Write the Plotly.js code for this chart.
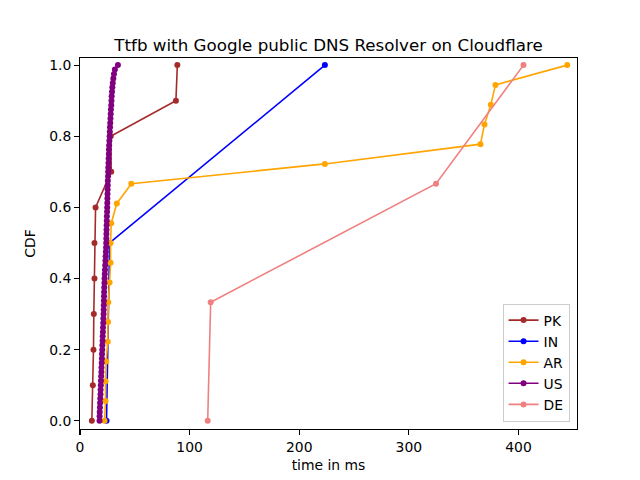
<!DOCTYPE html>
<html>
<head>
<meta charset="utf-8">
<script src="https://cdn.plot.ly/plotly-3.0.1.min.js"></script>
<style>html,body{margin:0;padding:0;background:#fff;}#chart{width:640px;height:480px;}</style>
</head>
<body>
<div id="chart"></div>
<script>
// Data (time in ms, CDF)
const pkX = [10.8, 11.7, 12.3, 12.6, 13.2, 13.2, 14.2, 28.5, 28.0, 87.5, 88.8];
const pkY = [0.0, 0.1, 0.2, 0.3, 0.4, 0.5, 0.6, 0.7, 0.8, 0.9, 1.0];

const inX = [24.2, 27.0, 223.4];
const inY = [0.0, 0.5, 1.0];

const arX = [22.4, 23.3, 23.3, 23.9, 25.3, 25.6, 25.8, 27.0, 27.9, 27.9, 28.5, 33.6, 46.8, 223.4, 365.3, 369.0, 374.8, 379.0, 444.5];
const arY = [0/18, 1/18, 2/18, 3/18, 4/18, 5/18, 6/18, 7/18, 8/18, 9/18, 10/18, 11/18, 12/18, 13/18, 14/18, 15/18, 16/18, 17/18, 18/18];

const usX = [17.8, 17.9, 18.0, 18.2, 18.3, 18.5, 18.7, 18.8, 19.0,
             19.1, 19.3, 19.5, 19.6, 19.8, 20.0, 20.1, 20.3,
             20.4, 20.6, 20.7, 20.9, 21.0, 21.2, 21.3, 21.5,
             21.6, 21.7, 21.8, 21.9, 22.0, 22.1, 22.3, 22.4,
             22.6, 22.8, 23.0, 23.2, 23.4, 23.6, 23.8, 23.9,
             24.0, 24.1, 24.2, 24.3, 24.4, 24.5, 24.7, 24.8,
             24.9, 25.0, 25.1, 25.2, 25.3, 25.4, 25.6, 25.7,
             25.8, 26.0, 26.1, 26.3, 26.4, 26.6, 26.8, 27.0,
             27.2, 27.4, 27.6, 27.8, 28.0, 28.2, 28.5, 28.7,
             28.9, 29.2, 29.5, 29.9, 30.4, 31.0, 31.8, 34.6];
// empirical CDF level of each sorted sample
const usY = usX.map((_, i) => i / (usX.length - 1));

const deX = [116.5, 119.2, 324.8, 404.6];
const deY = [0.0, 1/3, 2/3, 1.0];

const names = ["PK", "IN", "AR", "US", "DE"];
const colors = ["#a52a2a", "#0000ff", "#ffa500", "#800080", "#f08080"];
const xs = [pkX, inX, arX, usX, deX];
const ys = [pkY, inY, arY, usY, deY];

const traces = names.map((n, i) => ({
  type: "scatter",
  mode: "lines+markers",
  name: n,
  x: xs[i],
  y: ys[i],
  line: {color: colors[i], width: 1.6},
  marker: {color: colors[i], size: 6}
}));

const font = "DejaVu Sans, sans-serif";
const layout = {
  width: 640,
  height: 480,
  paper_bgcolor: "#fff",
  plot_bgcolor: "#fff",
  margin: {l: 80, r: 63, t: 58, b: 51, pad: 0},
  font: {family: font, size: 13.9, color: "#000"},
  title: {
    text: "Ttfb with Google public DNS Resolver on Cloudflare",
    font: {family: font, size: 16.7, color: "#000"},
    x: 0.5, xref: "paper", xanchor: "center",
    y: 1, yref: "paper", yanchor: "bottom",
    pad: {b: 7}
  },
  xaxis: {
    title: {text: "time in ms", font: {family: font, size: 13.9}, standoff: 6},
    range: [0, 453.4],
    tickvals: [0, 100, 200, 300, 400],
    ticks: "outside", ticklen: 4.9, tickwidth: 1.1, tickcolor: "#000",
    showline: true, linecolor: "#000", linewidth: 1.1, mirror: true,
    showgrid: false, zeroline: false,
    tickfont: {family: font, size: 13.9}
  },
  yaxis: {
    title: {text: "CDF", font: {family: font, size: 13.9}, standoff: 10},
    range: [-0.023, 1.02],
    tickvals: [0, 0.2, 0.4, 0.6, 0.8, 1.0],
    tickformat: ".1f",
    ticks: "outside", ticklen: 4.9, tickwidth: 1.1, tickcolor: "#000",
    showline: true, linecolor: "#000", linewidth: 1.1, mirror: true,
    showgrid: false, zeroline: false,
    tickfont: {family: font, size: 13.9}
  },
  legend: {
    x: 0.985, xanchor: "right", y: 0.02, yanchor: "bottom",
    bgcolor: "rgba(255,255,255,0.8)", bordercolor: "#cccccc", borderwidth: 1,
    font: {family: font, size: 13.9},
    tracegroupgap: 0
  },
  showlegend: true
};

Plotly.newPlot("chart", traces, layout, {displayModeBar: false, staticPlot: true});
</script>
</body>
</html>
